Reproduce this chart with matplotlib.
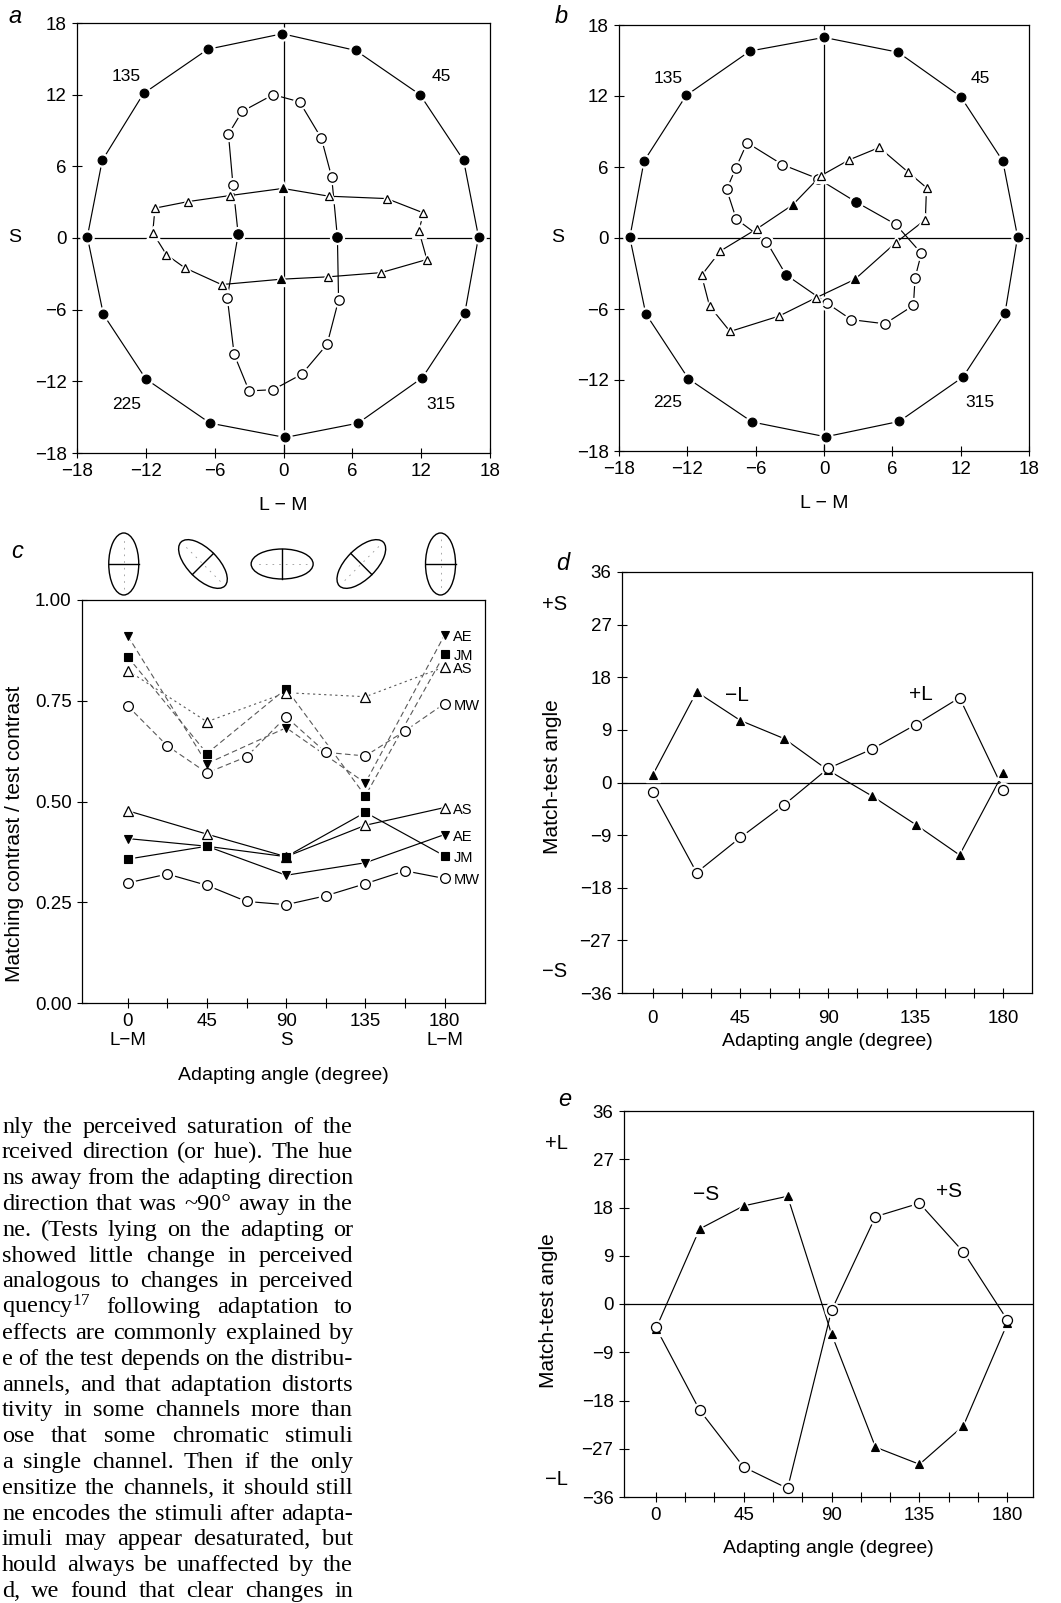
import matplotlib
matplotlib.use('Agg')
import matplotlib.pyplot as plt
from matplotlib.patches import Ellipse
from matplotlib.ticker import FormatStrFormatter
import numpy as np

plt.rcParams['font.family'] = ['Liberation Sans', 'DejaVu Sans']
plt.rcParams['mathtext.fontset'] = 'custom'
plt.rcParams['mathtext.rm'] = 'Liberation Serif'
plt.rcParams['mathtext.default'] = 'rm'
plt.rcParams['axes.linewidth'] = 0.9

W, H, DPI = 1061, 1603, 100

# ---------------- data ----------------
# panel a: test ring (16 directions) and matches after adaptation
a_ring_x = [-0.1, 6.3, 11.9, 15.7, 17.0, 15.8, 12.1, 6.5, 0.15, -6.4, -12.0, -15.7, -17.1, -15.8, -12.2, -6.6]
a_ring_y = [17.1, 15.7, 12.0, 6.5, 0.1, -6.3, -11.7, -15.5, -16.7, -15.5, -11.8, -6.4, 0.1, 6.5, 12.1, 15.8]
a_circ_x = [-0.9, 1.4, 3.3, 4.2, 4.7, 4.8, 3.8, 1.6, -0.9, -3.0, -4.3, -4.9, -3.95, -4.4, -4.8, -3.6]
a_circ_y = [12.0, 11.4, 8.35, 5.1, 0.05, -5.2, -8.9, -11.4, -12.7, -12.8, -9.75, -5.0, 0.3, 4.4, 8.7, 10.6]
a_circ_filled = [0, 0, 0, 0, 1, 0, 0, 0, 0, 0, 0, 0, 1, 0, 0, 0]
a_tri_x = [-0.06, 3.95, 9.0, 12.2, 11.8, 12.5, 8.5, 3.9, -0.2, -5.4, -8.6, -10.2, -11.4, -11.2, -8.3, -4.7]
a_tri_y = [4.15, 3.5, 3.3, 2.1, 0.6, -1.8, -2.9, -3.25, -3.45, -3.9, -2.5, -1.4, 0.45, 2.5, 3.05, 3.55]
a_tri_filled = [1, 0, 0, 0, 0, 0, 0, 0, 1, 0, 0, 0, 0, 0, 0, 0]

# panel b
b_ring_x = [0.0, 6.5, 12.0, 15.7, 17.0, 15.9, 12.2, 6.6, 0.15, -6.3, -11.9, -15.65, -17.05, -15.8, -12.1, -6.5]
b_ring_y = [16.95, 15.7, 11.95, 6.5, 0.1, -6.3, -11.75, -15.5, -16.8, -15.55, -11.9, -6.4, 0.05, 6.5, 12.05, 15.8]
b_circ_x = [-6.75, -3.65, -0.5, 2.8, 6.3, 8.55, 8.0, 7.85, 5.35, 2.4, 0.25, -3.35, -5.05, -7.7, -8.55, -7.75]
b_circ_y = [8.05, 6.2, 5.0, 3.05, 1.15, -1.3, -3.35, -5.7, -7.25, -6.9, -5.5, -3.1, -0.3, 1.6, 4.1, 5.9]
b_circ_filled = [0, 0, 0, 1, 0, 0, 0, 0, 0, 0, 0, 1, 0, 0, 0, 0]
b_tri_x = [-0.3, 2.2, 4.85, 7.35, 9.0, 8.9, 6.3, 2.7, -0.7, -3.95, -8.25, -10.05, -10.75, -9.1, -5.85, -2.75]
b_tri_y = [5.25, 6.6, 7.65, 5.6, 4.25, 1.55, -0.4, -3.5, -5.05, -6.6, -7.9, -5.75, -3.15, -1.1, 0.8, 2.8]
b_tri_filled = [0, 0, 0, 0, 0, 0, 0, 1, 0, 0, 0, 0, 0, 0, 0, 1]

ring_labels = ['45', '135', '225', '315']

# panel c
c_ang4 = [0, 45, 90, 135, 180]
c_ang8 = [0, 22.5, 45, 67.5, 90, 112.5, 135, 157.5, 180]
c_hi_AE = [0.911, 0.594, 0.683, 0.546, 0.913]
c_hi_JM = [0.859, 0.619, 0.780, 0.514, 0.866]
c_hi_AS = [0.825, 0.698, 0.770, 0.760, 0.834]
c_hi_MW = [0.737, 0.638, 0.571, 0.611, 0.710, 0.622, 0.613, 0.675, 0.743]
c_lo_AS = [0.477, 0.419, 0.363, 0.441, 0.485]
c_lo_AE = [0.408, 0.389, 0.317, 0.348, 0.418]
c_lo_JM = [0.357, 0.389, 0.363, 0.473, 0.365]
c_lo_MW = [0.298, 0.320, 0.292, 0.252, 0.244, 0.266, 0.296, 0.328, 0.309]
c_xticks = [0, 22.5, 45, 67.5, 90, 112.5, 135, 157.5, 180]
c_xticklabels = ['0\nL\u2212M', '', '45', '', '90\nS', '', '135', '', '180\nL\u2212M']

# panel d
d_ang = [0, 22.5, 45, 67.5, 90, 112.5, 135, 157.5, 180]
d_tri = [1.3, 15.5, 10.6, 7.5, 2.1, -2.3, -7.2, -12.4, 1.7]
d_circ = [-1.6, -15.4, -9.4, -3.8, 2.4, 5.7, 9.9, 14.5, -1.2]

# panel e
e_ang = [0, 22.5, 45, 67.5, 90, 112.5, 135, 157.5, 180]
e_tri = [-4.7, 14.0, 18.3, 20.1, -5.6, -26.7, -29.9, -22.7, -3.6]
e_circ = [-4.3, -19.8, -30.4, -34.4, -1.2, 16.3, 18.8, 9.7, -3.0]

text_lines = [
    "nly the perceived saturation of the",
    "rceived direction (or hue). The hue",
    "ns away from the adapting direction",
    "direction that was ~90\u00b0 away in the",
    "ne. (Tests lying on the adapting or",
    "showed little change in perceived",
    "analogous to changes in perceived",
    "quency$^{17}$ following adaptation to",
    "effects are commonly explained by",
    "e of the test depends on the distribu-",
    "annels, and that adaptation distorts",
    "tivity in some channels more than",
    "ose that some chromatic stimuli",
    "a single channel. Then if the only",
    "ensitize the channels, it should still",
    "ne encodes the stimuli after adapta-",
    "imuli may appear desaturated, but",
    "hould always be unaffected by the",
    "d, we found that clear changes in",
]

# ---------------- helpers ----------------
TICK_FS = 13.5
LAB_FS = 14
YLAB_FS = 15


def pos(l, t, r, b):
    return [l / W, 1 - b / H, (r - l) / W, (b - t) / H]


def series(ax, x, y, marker, ms, filled, closed=False, ls='-', color='k', lw=0.85, z=3):
    x = list(x); y = list(y)
    if isinstance(filled, (int, bool)):
        filled = [filled] * len(x)
    xl, yl = (x + [x[0]], y + [y[0]]) if closed else (x, y)
    ax.plot(xl, yl, color=color, lw=lw, ls=ls, zorder=z)
    ax.plot(x, y, ls='none', marker=marker, ms=ms + 3.2, mfc='white', mec='white', zorder=z + 1)
    xf = [a for a, f in zip(x, filled) if f]; yf = [b for b, f in zip(y, filled) if f]
    xo = [a for a, f in zip(x, filled) if not f]; yo = [b for b, f in zip(y, filled) if not f]
    if xf:
        ax.plot(xf, yf, ls='none', marker=marker, ms=ms, mfc='k', mec='k', mew=0.8, zorder=z + 2)
    if xo:
        ax.plot(xo, yo, ls='none', marker=marker, ms=ms, mfc='white', mec='k', mew=0.9, zorder=z + 2)


def style(ax, fs=TICK_FS, xpad=4):
    ax.tick_params(direction='inout', length=7, width=0.8, labelsize=fs, pad=4)
    ax.tick_params(axis='x', pad=xpad)
    for s in ax.spines.values():
        s.set_linewidth(0.9)


fig = plt.figure(figsize=(W / DPI, H / DPI), dpi=DPI)
fig.patch.set_facecolor('white')

# overlay in pixel coordinates (for icons & text block)
ov = fig.add_axes([0, 0, 1, 1], zorder=-5)
ov.set_xlim(0, W); ov.set_ylim(H, 0); ov.axis('off')

# ---------------- panels a & b ----------------
def polar_panel(rect, letter, rx, ry, cx, cy, cf, tx, ty, tf, letter_pos):
    ax = fig.add_axes(pos(*rect))
    ax.set_xlim(-18, 18); ax.set_ylim(-18, 18)
    ax.axhline(0, color='k', lw=0.9, zorder=1)
    ax.axvline(0, color='k', lw=0.9, zorder=1)
    series(ax, rx, ry, 'o', 6.3, 1, closed=True)
    series(ax, cx, cy, 'o', 6.8, cf, closed=True)
    series(ax, tx, ty, '^', 6.3, tf, closed=True, z=6)
    ax.set_xticks(np.arange(-18, 19, 6)); ax.set_yticks(np.arange(-18, 19, 6))
    style(ax)
    ax.set_xlabel('L \u2212 M', fontsize=LAB_FS, labelpad=12)
    ax.set_ylabel('S', fontsize=14, rotation=0, va='center', ha='center')
    ax.yaxis.set_label_coords(-0.15, 0.5)
    for lab in ring_labels:
        th = np.deg2rad(float(lab))
        ax.text(19.4 * np.cos(th), 19.4 * np.sin(th) - 0.2, lab, fontsize=12.5, ha='center', va='center')
    ax.text(letter_pos[0], letter_pos[1], letter, transform=ax.transAxes, fontsize=17,
            style='italic', ha='center', va='center')
    return ax

ax_a = polar_panel((77, 23, 490, 453), 'a', a_ring_x, a_ring_y, a_circ_x, a_circ_y, a_circ_filled,
                   a_tri_x, a_tri_y, a_tri_filled, (-0.15, 1.015))
ax_b = polar_panel((619, 25, 1029, 451), 'b', b_ring_x, b_ring_y, b_circ_x, b_circ_y, b_circ_filled,
                   b_tri_x, b_tri_y, b_tri_filled, (-0.14, 1.02))

# ---------------- panel c ----------------
ax_c = fig.add_axes(pos(82, 600, 485, 1003))
ax_c.set_xlim(-26, 203); ax_c.set_ylim(0, 1)
dash_a = (0, (5, 3))
dash_b = (0, (2, 3))
series(ax_c, c_ang4, c_hi_AE, 'v', 6, 1, ls=dash_a, color='0.35', lw=0.8)
series(ax_c, c_ang4, c_hi_JM, 's', 6, 1, ls=dash_a, color='0.35', lw=0.8)
series(ax_c, c_ang4, c_hi_AS, '^', 6.5, 0, ls=dash_b, color='0.35', lw=0.8)
series(ax_c, c_ang8, c_hi_MW, 'o', 7, 0, ls=dash_a, color='0.35', lw=0.8)
series(ax_c, c_ang4, c_lo_AS, '^', 6.5, 0)
series(ax_c, c_ang4, c_lo_AE, 'v', 6, 1)
series(ax_c, c_ang4, c_lo_JM, 's', 6, 1)
series(ax_c, c_ang8, c_lo_MW, 'o', 7, 0)
for name, vals in [('AE', c_hi_AE), ('JM', c_hi_JM), ('AS', c_hi_AS), ('MW', c_hi_MW),
                   ('AS', c_lo_AS), ('AE', c_lo_AE), ('JM', c_lo_JM), ('MW', c_lo_MW)]:
    ax_c.text(c_ang4[-1] + 5, vals[-1] - 0.005, name, fontsize=10.5, ha='left', va='center')
ax_c.set_xticks(c_xticks)
ax_c.set_xticklabels(c_xticklabels, linespacing=1.1)
ax_c.set_yticks([0, 0.25, 0.5, 0.75, 1.0])
ax_c.yaxis.set_major_formatter(FormatStrFormatter('%.2f'))
style(ax_c)
ax_c.set_xlabel('Adapting angle (degree)', fontsize=LAB_FS)
ax_c.xaxis.set_label_coords(0.5, -0.158)
ax_c.set_ylabel('Matching contrast / test contrast', fontsize=YLAB_FS)
ax_c.yaxis.set_label_coords(-0.145, 0.42)
ax_c.text(-0.16, 1.12, 'c', transform=ax_c.transAxes, fontsize=17, style='italic',
          ha='center', va='center')

# ellipse icons above panel c
for ang in c_ang4:
    cx_disp = ax_c.transData.transform((ang, 0))[0] - 4
    cy = 564
    major, minor = 62, 30
    ell = Ellipse((cx_disp, cy), major, minor, angle=-(ang + 90), fill=False, ec='k', lw=1.0)
    ov.add_patch(ell)
    t = np.deg2rad(ang)
    dx, dy = np.cos(t) * minor / 2, -np.sin(t) * minor / 2
    ov.plot([cx_disp - dx, cx_disp + dx], [cy - dy, cy + dy], color='k', lw=1.0)
    t2 = np.deg2rad(ang + 90)
    dx2, dy2 = np.cos(t2) * major / 2 * 0.8, -np.sin(t2) * major / 2 * 0.8
    ov.plot([cx_disp - dx2, cx_disp + dx2], [cy - dy2, cy + dy2], color='0.6', lw=0.6, ls=(0, (2, 6)))

# ---------------- panels d & e ----------------
def angle_panel(rect, letter, xlim, ang, tri, circ, lab_neg, lab_pos, side_top, side_bot,
                ylab_x, ylab_y, lab_y, xpad, tpad):
    ax = fig.add_axes(pos(*rect))
    ax.set_xlim(*xlim); ax.set_ylim(-36, 36)
    ax.axhline(0, color='k', lw=0.9, zorder=1)
    series(ax, ang, tri, '^', 6.3, 1)
    series(ax, ang, circ, 'o', 7.2, 0)
    ticks = np.arange(0, 181, 15)
    ax.set_xticks(ticks)
    ax.set_xticklabels([str(int(v)) if v % 45 == 0 else '' for v in ticks])
    ax.set_yticks(np.arange(-36, 37, 9))
    style(ax, xpad=tpad)
    ax.set_ylabel('Match-test angle', fontsize=YLAB_FS)
    ax.yaxis.set_label_coords(ylab_x, ylab_y)
    ax.set_xlabel('Adapting angle (degree)', fontsize=LAB_FS, labelpad=xpad)
    ax.text(lab_neg[0], lab_neg[1], lab_neg[2], fontsize=15, ha='center', va='center')
    ax.text(lab_pos[0], lab_pos[1], lab_pos[2], fontsize=15, ha='center', va='center')
    tr = ax.get_yaxis_transform()
    ax.text(-0.165, side_top[0], side_top[1], transform=tr, fontsize=14.5, ha='center', va='center')
    ax.text(-0.165, side_bot[0], side_bot[1], transform=tr, fontsize=14.5, ha='center', va='center')
    ax.text(-0.145, lab_y, letter, transform=ax.transAxes, fontsize=17, style='italic',
            ha='center', va='center')
    return ax

ax_d = angle_panel((622, 572, 1032, 993), 'd', (-15.8, 194.7), d_ang, d_tri, d_circ,
                   (43, 14.9, '\u2212L'), (137.5, 15.1, '+L'), (30.4, '+S'), (-32.4, '\u2212S'),
                   -0.146, 0.513, 1.02, 4, 9)
ax_e = angle_panel((624, 1111, 1033, 1497), 'e', (-16.2, 193.1), e_ang, e_tri, e_circ,
                   (26, 20.5, '\u2212S'), (150, 20.9, '+S'), (30.0, '+L'), (-32.8, '\u2212L'),
                   -0.161, 0.484, 1.03, 11, 4)

# ---------------- text block (justified) ----------------
renderer = fig.canvas.get_renderer()
TX0, TX1 = 2, 353
TDY = 25.8
TY0 = 1597 - (len(text_lines) - 1) * TDY
for i, line in enumerate(text_lines):
    yb = TY0 + i * TDY
    words = line.split(' ')
    fs = 17.5
    objs = [ov.text(0, yb, w, fontsize=fs, family=['Liberation Serif', 'DejaVu Serif'],
                    va='baseline', ha='left', clip_on=False) for w in words]
    widths = [o.get_window_extent(renderer).width for o in objs]
    total = sum(widths)
    avail = TX1 - TX0
    if total > avail * 0.96:
        scale = avail * 0.95 / total
        for o in objs:
            o.set_fontsize(fs * scale)
        widths = [o.get_window_extent(renderer).width for o in objs]
        total = sum(widths)
    gap = (avail - total) / max(len(words) - 1, 1)
    x = TX0
    for o, w in zip(objs, widths):
        o.set_x(x)
        x += w + gap

fig.savefig('out.png', dpi=DPI, facecolor='white')
